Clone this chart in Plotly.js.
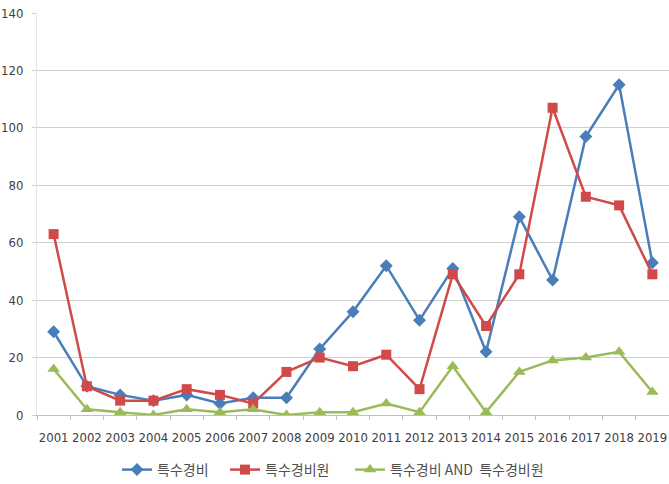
<!DOCTYPE html>
<html><head><meta charset="utf-8">
<script src="https://cdn.plot.ly/plotly-3.0.1.min.js"></script>
<style>html,body{margin:0;padding:0;background:#fff}#c{width:669px;height:484px}</style>
</head><body><div id="c"></div>
<script>
const years = ['2001','2002','2003','2004','2005','2006','2007','2008','2009','2010','2011','2012','2013','2014','2015','2016','2017','2018','2019'];
const seriesA = [29,10,7,5,7,4,6,6,23,36,52,33,51,22,69,47,97,115,53];
const seriesB = [63,10,5,5,9,7,4,15,20,17,21,9,49,31,49,107,76,73,49];
const seriesC = [16,2,1,0,2,1,2,0,1,1,4,1,17,1,15,19,20,22,8];
const names = ['특수경비','특수경비원','특수경비 AND\u00a0\u00a0특수경비원'];
const yTicks = [0,20,40,60,80,100,120,140];

const font = {family:'"Noto Sans CJK KR", "Noto Sans", sans-serif', size:12, color:'#404040'};
const narrow = '"Liberation Sans Narrow", "DejaVu Sans Condensed", sans-serif';
const traces = [
  {x:years, y:seriesA, name:names[0], type:'scatter', mode:'lines+markers', legend:'legend',
   line:{color:'#4a7ebb', width:2.5}, marker:{symbol:'diamond', size:10, color:'#4a7ebb'}},
  {x:years, y:seriesB, name:names[1], type:'scatter', mode:'lines+markers', legend:'legend2',
   line:{color:'#d04a4a', width:2.5}, marker:{symbol:'square', size:10, color:'#d04a4a'}},
  {x:years, y:seriesC, name:names[2], type:'scatter', mode:'lines+markers', legend:'legend3',
   line:{color:'#9bbb59', width:2.5}, marker:{symbol:'triangle-up', size:11, color:'#9bbb59'}}
];
const legFont = {family:font.family, size:14, color:'#505050'};
function leg(px){
  return {orientation:'h', xref:'container', yref:'container', x:px/669, xanchor:'left',
    y:(484-470)/484, yanchor:'middle', font:legFont, bgcolor:'rgba(0,0,0,0)'};
}
const layout = {
  width:669, height:484,
  margin:{l:37, r:0, t:13, b:69, autoexpand:false},
  paper_bgcolor:'#fff', plot_bgcolor:'#fff',
  font: font,
  showlegend:true,
  legend: leg(117), legend2: leg(225), legend3: leg(350),
  xaxis:{type:'category', range:[-0.5, 18.5], showgrid:false, showline:true, linecolor:'#bfbfbf', linewidth:1,
    ticks:'outside', ticklen:4, tickcolor:'#bfbfbf', tickson:'boundaries', tickangle:0,
    automargin:false, ticklabelstandoff:10,
    tickfont:{family:narrow, size:13, color:'#404040'}, zeroline:false},
  yaxis:{range:[0,140], tickvals:yTicks, showgrid:true, gridcolor:'#d0d0d0', gridwidth:1,
    showline:true, linecolor:'#e6e6e6', zeroline:false, ticks:'outside', ticklen:4, tickcolor:'#d0d0d0',
    ticklabelstandoff:6, automargin:false,
    tickfont:{family:narrow, size:13, color:'#404040'}}
};
Plotly.newPlot('c', traces, layout, {staticPlot:true});
</script></body></html>
